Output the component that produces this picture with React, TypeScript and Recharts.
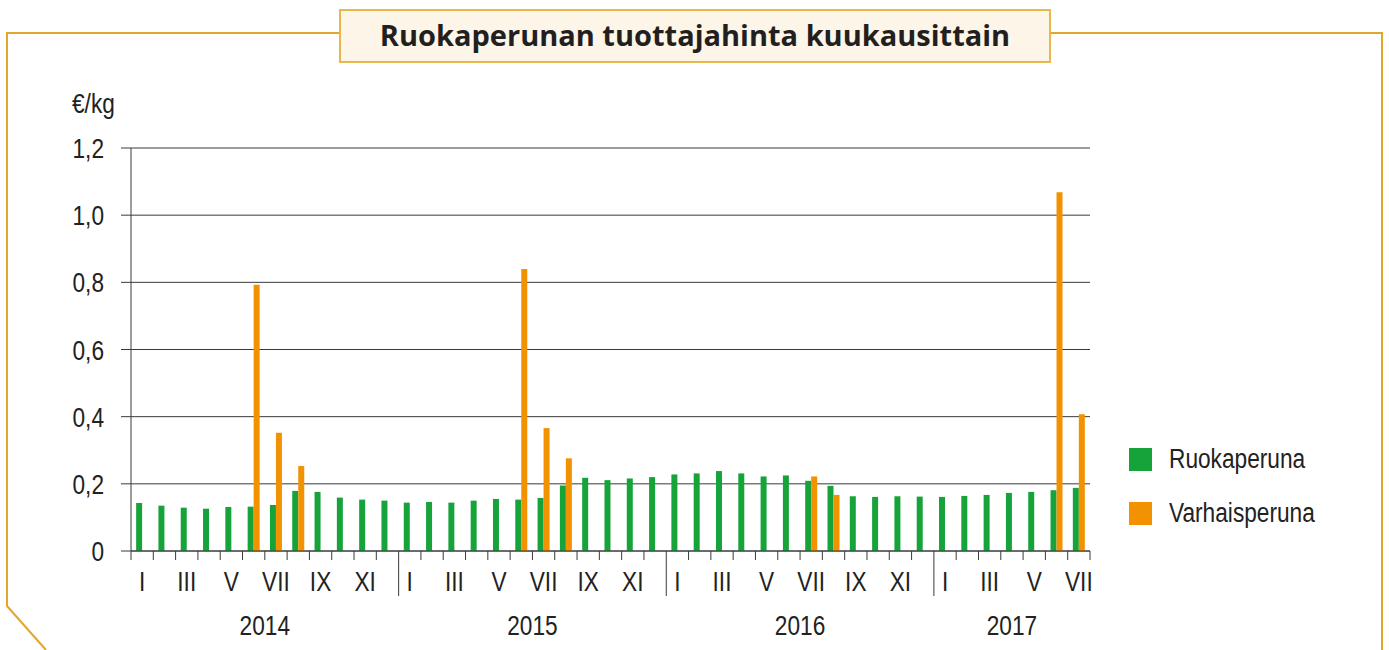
import { Bar, BarChart, CartesianGrid, Legend, XAxis, YAxis } from "recharts"

const years = ["2014", "2015", "2016", "2017"]
const monthsPerYear = [12, 12, 12, 7]
const romanMonths = ["I", "II", "III", "IV", "V", "VI", "VII", "VIII", "IX", "X", "XI", "XII"]

// €/kg, Jan 2014 .. Jul 2017
const ruokaperuna = [
  0.143, 0.135, 0.129, 0.126, 0.131, 0.132, 0.137, 0.179, 0.176, 0.159, 0.153, 0.15,
  0.144, 0.146, 0.144, 0.15, 0.155, 0.153, 0.158, 0.195, 0.218, 0.211, 0.216, 0.22,
  0.228, 0.231, 0.238, 0.231, 0.222, 0.225, 0.209, 0.194, 0.163, 0.161, 0.163, 0.162,
  0.161, 0.164, 0.167, 0.173, 0.176, 0.181, 0.188,
]
const varhaisperuna = [
  null, null, null, null, null, 0.793, 0.352, 0.253, null, null, null, null,
  null, null, null, null, null, 0.84, 0.366, 0.276, null, null, null, null,
  null, null, null, null, null, null, 0.222, 0.167, null, null, null, null,
  null, null, null, null, null, 1.068, 0.407,
]
const yTicks = [0, 0.2, 0.4, 0.6, 0.8, 1.0, 1.2]

const data = years.flatMap((year, yi) =>
  romanMonths.slice(0, monthsPerYear[yi]).map((m, mi) => ({
    key: `${year}-${m}`,
    year,
    yearIndex: yi,
    month: mi,
    label: m,
  }))
).map((d, i) => ({ ...d, ruoka: ruokaperuna[i], varhais: varhaisperuna[i] }))

const FONT = '"Liberation Sans Narrow", "Arial Narrow", "Liberation Sans", Arial, sans-serif'
const SQUEEZE = 0.84 // no narrow font here, so squeeze the regular one
const GREEN = "#16a33a"
const ORANGE = "#f39200"
const AXIS = "#3a3a3a"

// condensed-looking text
function NText({ x, y, anchor = "middle", children }: any) {
  return (
    <text
      transform={`translate(${x},${y}) scale(${SQUEEZE},1)`}
      textAnchor={anchor}
      fontSize={27}
      fill="#222"
      fontFamily={FONT}
    >
      {children}
    </text>
  )
}

function MonthTick(props: any) {
  const { x, y, index, payload } = props
  const d = data[index]
  if (!d) return null
  const half = payload?.offset || 11.15
  const left = x - half
  const isYearStart = d.month === 0 && d.yearIndex > 0
  const count = monthsPerYear[d.yearIndex]
  const showYear = d.month === Math.floor(count / 2)
  const yearX = count % 2 === 0 ? left : x
  const last = index === data.length - 1
  return (
    <g>
      <line x1={left} y1={y} x2={left} y2={y + (isYearStart ? 45 : 9)} stroke={AXIS} />
      {last && <line x1={x + half} y1={y} x2={x + half} y2={y + 9} stroke={AXIS} />}
      {d.month % 2 === 0 && <NText x={x} y={y + 40}>{d.label}</NText>}
      {showYear && <NText x={yearX} y={y + 84}>{d.year}</NText>}
    </g>
  )
}

function ValueTick(props: any) {
  const { x, y, payload } = props
  const v = payload.value as number
  const s = v === 0 ? "0" : v.toFixed(1).replace(".", ",")
  return <NText x={x} y={y + 10} anchor="end">{s}</NText>
}

function LegendBox(props: any) {
  return (
    <div style={{ fontFamily: FONT }}>
      {(props.payload || []).map((entry: any) => (
        <div key={entry.value} style={{ display: "flex", alignItems: "center", height: 54 }}>
          <span style={{ width: 23, height: 23, background: entry.color, marginRight: 17, flex: "none" }} />
          <span
            style={{
              fontSize: 27,
              color: "#222",
              display: "inline-block",
              transform: `scaleX(${SQUEEZE})`,
              transformOrigin: "left center",
              whiteSpace: "nowrap",
            }}
          >
            {entry.value}
          </span>
        </div>
      ))}
    </div>
  )
}

export default function App() {
  return (
    <div style={{ position: "absolute", left: 0, top: 0, width: 1389, height: 650, background: "#fff", fontFamily: FONT }}>
      <svg width={1389} height={650} style={{ position: "absolute", left: 0, top: 0 }}>
        <path d="M340 33 H7 V606 L46 650" fill="none" stroke="#e3a52c" strokeWidth={2} />
        <path d="M1050 33 H1382 V650" fill="none" stroke="#e3a52c" strokeWidth={2} />
        <rect x={340} y={10} width={710} height={52} fill="#fcf5e8" stroke="#e8b84a" strokeWidth={2} />
        <text x={695} y={46} textAnchor="middle" fontSize={29} fontWeight={700} fill="#231f20" fontFamily='"Open Sans", sans-serif'>
          Ruokaperunan tuottajahinta kuukausittain
        </text>
        <NText x={72} y={113} anchor="start">€/kg</NText>
      </svg>
      <div style={{ position: "absolute", left: 0, top: 0 }}>
        <BarChart
          width={1389}
          height={650}
          data={data}
          margin={{ top: 148, right: 299, bottom: 0, left: 0 }}
          barCategoryGap="23%"
          barGap={0}
        >
          <CartesianGrid vertical={false} stroke={AXIS} />
          <XAxis
            dataKey="key"
            interval={0}
            height={99}
            tickLine={false}
            tickSize={0}
            tickMargin={0}
            axisLine={{ stroke: AXIS }}
            tick={<MonthTick />}
          />
          <YAxis
            width={131}
            domain={[0, 1.2]}
            ticks={yTicks}
            tickSize={10}
            tickMargin={17}
            tickLine={{ stroke: AXIS }}
            axisLine={{ stroke: AXIS }}
            tick={<ValueTick />}
          />
          <YAxis yAxisId="frame" orientation="right" width={0} domain={[0, 1]} tick={false} tickLine={false} axisLine={{ stroke: "#777" }} />
          <Legend
            layout="vertical"
            align="center"
            verticalAlign="middle"
            content={<LegendBox />}
            wrapperStyle={{ left: 1129, top: 432, width: 240 }}
          />
          <Bar dataKey="ruoka" name="Ruokaperuna" fill={GREEN} isAnimationActive={false} />
          <Bar dataKey="varhais" name="Varhaisperuna" fill={ORANGE} isAnimationActive={false} />
        </BarChart>
      </div>
    </div>
  )
}
